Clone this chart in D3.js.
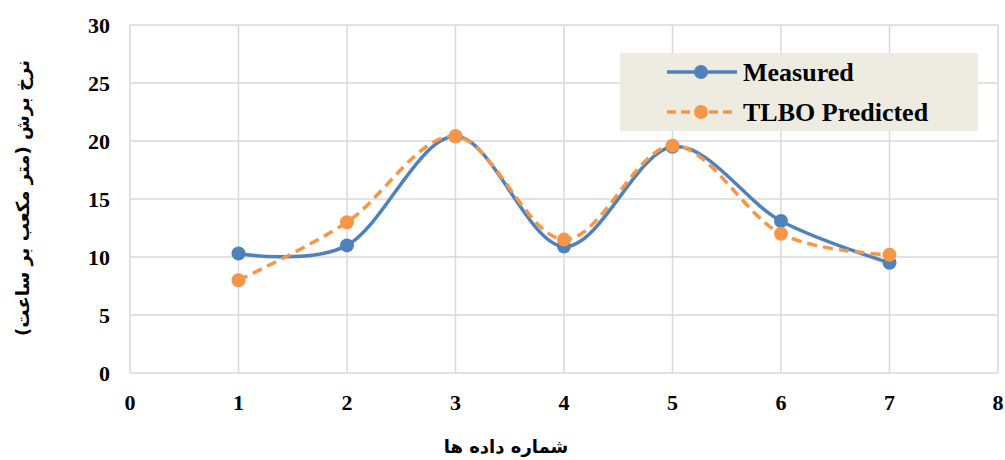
<!DOCTYPE html>
<html><head><meta charset="utf-8">
<script src="https://cdn.jsdelivr.net/npm/d3@7"></script>
<style>body{margin:0;background:#fff;}svg{display:block;}</style>
</head><body>
<svg id="c" width="1005" height="460"></svg>
<script>
const xValues = [1, 2, 3, 4, 5, 6, 7];
const measured = [10.3, 11.0, 20.4, 10.9, 19.5, 13.1, 9.5];
const predicted = [8.0, 13.0, 20.4, 11.5, 19.6, 12.0, 10.2];
const xTicks = [0, 1, 2, 3, 4, 5, 6, 7, 8];
const yTicks = [0, 5, 10, 15, 20, 25, 30];
const seriesNames = ["Measured", "TLBO Predicted"];
const xTitle = "شماره داده ها";
const yTitle = "نرخ برش (متر مکعب بر ساعت)";

const svg = d3.select("#c");
const L = 130, R = 998, T = 25, B = 373;
const x = d3.scaleLinear().domain([0, 8]).range([L, R]);
const y = d3.scaleLinear().domain([0, 30]).range([B, T]);
const grid = "#d9d9d9";

// gridlines
svg.append("g").selectAll("line").data(xTicks).join("line")
  .attr("x1", d => x(d)).attr("x2", d => x(d)).attr("y1", T).attr("y2", B)
  .attr("stroke", grid).attr("stroke-width", 1.5);
svg.append("g").selectAll("line").data(yTicks).join("line")
  .attr("x1", L).attr("x2", R).attr("y1", d => y(d)).attr("y2", d => y(d))
  .attr("stroke", grid).attr("stroke-width", 1.5);

const font = "'Liberation Serif','Times New Roman',serif";
// y ticks
svg.append("g").selectAll("text").data(yTicks).join("text")
  .attr("x", 110).attr("y", d => y(d)).attr("dy", "0.35em")
  .attr("text-anchor", "end").attr("font-family", font).attr("font-weight", "bold")
  .attr("font-size", 22).text(d => d);
// x ticks
svg.append("g").selectAll("text").data(xTicks).join("text")
  .attr("x", d => x(d)).attr("y", 410)
  .attr("text-anchor", "middle").attr("font-family", font).attr("font-weight", "bold")
  .attr("font-size", 22).text(d => d);

// titles
svg.append("text").attr("x", 506).attr("y", 453).attr("text-anchor", "middle")
  .attr("font-family", "'DejaVu Sans','Noto Sans',sans-serif").attr("font-weight", "bold")
  .attr("font-size", 18).attr("direction", "rtl").text(xTitle);
svg.append("text").attr("transform", "translate(29,198) rotate(-90)").attr("text-anchor", "middle")
  .attr("font-family", "'DejaVu Sans','Noto Sans',sans-serif").attr("font-weight", "bold")
  .attr("font-size", 18).attr("direction", "rtl").text(yTitle);

const line = d3.line().x((d, i) => x(xValues[i])).y(d => y(d)).curve(d3.curveCatmullRom.alpha(0));
const blue = "#4f81bd", orange = "#f79646";

svg.append("path").attr("d", line(measured)).attr("fill", "none").attr("stroke", blue).attr("stroke-width", 3.5);
svg.append("g").selectAll("circle").data(measured).join("circle")
  .attr("cx", (d, i) => x(xValues[i])).attr("cy", d => y(d)).attr("r", 7).attr("fill", blue);

svg.append("path").attr("d", line(predicted)).attr("fill", "none").attr("stroke", orange)
  .attr("stroke-width", 3.5).attr("stroke-dasharray", "10,6");
svg.append("g").selectAll("circle").data(predicted).join("circle")
  .attr("cx", (d, i) => x(xValues[i])).attr("cy", d => y(d)).attr("r", 7).attr("fill", orange);

// legend
const lg = svg.append("g");
lg.append("rect").attr("x", 620).attr("y", 53).attr("width", 358).attr("height", 78).attr("fill", "#eeece1");
const rows = [{name: seriesNames[0], c: blue, dash: null, cy: 72}, {name: seriesNames[1], c: orange, dash: "9,5", cy: 112}];
rows.forEach(r => {
  lg.append("line").attr("x1", 667).attr("x2", 737).attr("y1", r.cy).attr("y2", r.cy)
    .attr("stroke", r.c).attr("stroke-width", 3.5).attr("stroke-dasharray", r.dash);
  lg.append("circle").attr("cx", 701).attr("cy", r.cy).attr("r", 7).attr("fill", r.c);
  lg.append("text").attr("x", 743).attr("y", r.cy).attr("dy", "0.35em")
    .attr("font-family", font).attr("font-weight", "bold").attr("font-size", 26).text(r.name);
});
</script>
</body></html>
